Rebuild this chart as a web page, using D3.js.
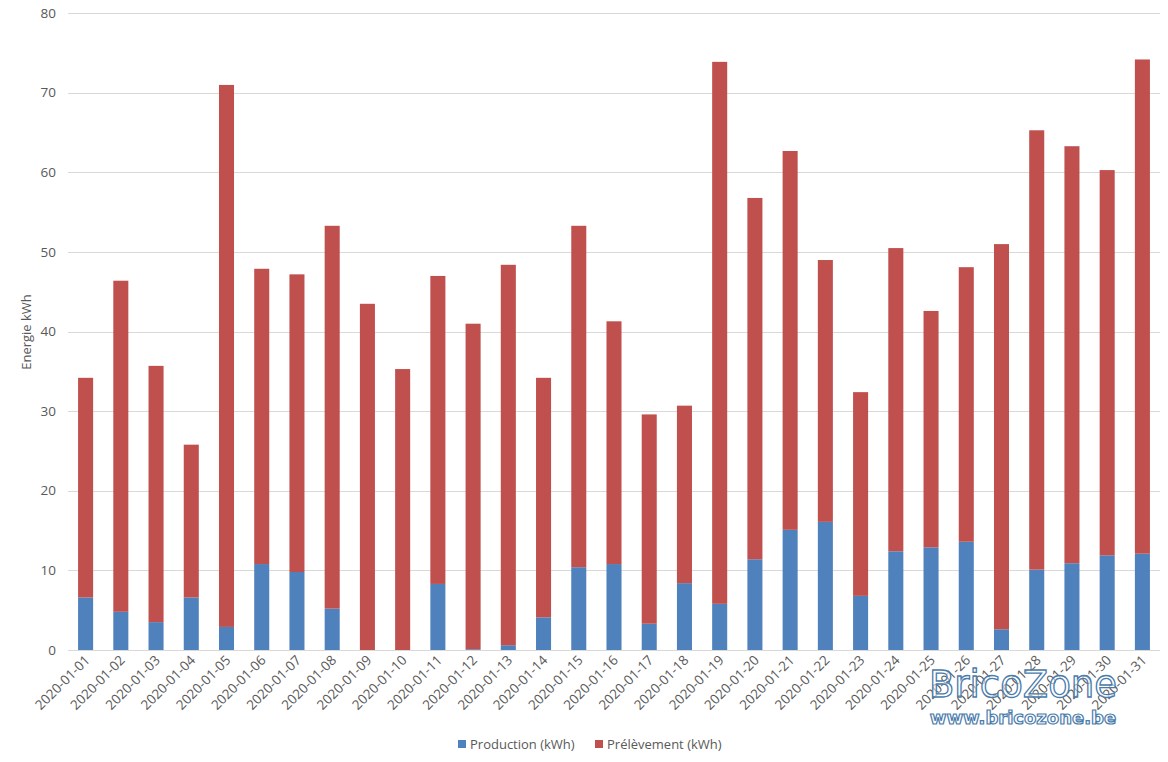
<!DOCTYPE html>
<html><head><meta charset="utf-8">
<script src="https://cdn.jsdelivr.net/npm/d3@7"></script>
<style>body{margin:0;background:#fff}svg{display:block}</style>
</head><body>
<svg id="c" width="1168" height="762"></svg>
<script>
const dates = ["2020-01-01","2020-01-02","2020-01-03","2020-01-04","2020-01-05","2020-01-06","2020-01-07","2020-01-08","2020-01-09","2020-01-10","2020-01-11","2020-01-12","2020-01-13","2020-01-14","2020-01-15","2020-01-16","2020-01-17","2020-01-18","2020-01-19","2020-01-20","2020-01-21","2020-01-22","2020-01-23","2020-01-24","2020-01-25","2020-01-26","2020-01-27","2020-01-28","2020-01-29","2020-01-30","2020-01-31"];
const production = [6.6,4.8,3.5,6.6,2.9,10.8,9.8,5.2,0,0,8.3,0.1,0.6,4.1,10.4,10.8,3.3,8.4,5.8,11.4,15.1,16.1,6.8,12.4,12.9,13.6,2.6,10.1,10.9,11.9,12.1];
const totals = [34.2,46.4,35.7,25.8,71.0,47.9,47.2,53.3,43.5,35.3,47.0,41.0,48.4,34.2,53.3,41.3,29.6,30.7,73.9,56.8,62.7,49.0,32.4,50.5,42.6,48.1,51.0,65.3,63.3,60.3,74.2];
const prelevement = totals.map((t,i)=>+(t-production[i]).toFixed(1));
const seriesNames = ["Production (kWh)","Prélèvement (kWh)"];
const yTicks = [0,10,20,30,40,50,60,70,80];

const colors = ["#4f81bd","#c0504d"];
const svg = d3.select("#c");
const font = "'Open Sans', 'Liberation Sans', sans-serif";
const m = {l:68, r:8, t:13.3, b:112};
const W = 1168, H = 762;
const x = d3.scaleBand().domain(dates).range([m.l, W-m.r]).paddingInner(0.573).paddingOuter(0.286);
const y = d3.scaleLinear().domain([0,80]).range([650, 13.3]);

// gridlines
svg.append("g").selectAll("line").data(yTicks).join("line")
  .attr("x1", m.l).attr("x2", W-m.r)
  .attr("y1", d=>Math.round(y(d))+0.5).attr("y2", d=>Math.round(y(d))+0.5)
  .attr("stroke","#d9d9d9").attr("stroke-width",1);

// y labels
svg.append("g").selectAll("text").data(yTicks).join("text")
  .attr("x", 56).attr("y", d=>y(d)+4.5).attr("text-anchor","end")
  .attr("font-family", font).attr("font-size", 13.5).attr("fill","#595959")
  .text(d=>d);

// y title
svg.append("text").attr("transform","translate(31,332) rotate(-90)")
  .attr("text-anchor","middle").attr("font-family",font).attr("font-size",13).attr("fill","#595959")
  .text("Energie kWh");

// stacked bars
const rows = dates.map((d,i)=>({date:d, p:production[i], q:prelevement[i]}));
const stack = d3.stack().keys(["p","q"])(rows);
svg.append("g").selectAll("g").data(stack).join("g")
  .attr("fill",(d,i)=>colors[i])
  .selectAll("rect").data(d=>d).join("rect")
  .attr("x", d=>x(d.data.date)).attr("width", x.bandwidth())
  .attr("y", d=>y(d[1])).attr("height", d=>Math.max(0, y(d[0])-y(d[1])));

// x labels
svg.append("g").selectAll("text").data(dates).join("text")
  .attr("transform", d=>`translate(${x(d)+x.bandwidth()/2+5},${661}) rotate(-45)`)
  .attr("text-anchor","end").attr("font-family",font).attr("font-size",13.5).attr("fill","#595959")
  .text(d=>d);

// legend
const leg = svg.append("g").attr("font-family",font).attr("font-size",13).attr("fill","#595959");
const legX = [458, 595];
seriesNames.forEach((n,i)=>{
  leg.append("rect").attr("x",legX[i]).attr("y",740).attr("width",8).attr("height",8).attr("fill",colors[i]);
  leg.append("text").attr("x",legX[i]+12).attr("y",749).text(n);
});

// watermark
const wm = svg.append("g").attr("fill","rgba(255,255,255,0.55)").attr("stroke","#4a7bab").attr("font-family","'DejaVu Sans', sans-serif");
wm.append("text").attr("x",1023).attr("y",697).attr("text-anchor","middle").attr("font-size",37).attr("stroke-width",1.3).text("BricoZone");
wm.append("text").attr("x",1023).attr("y",724).attr("text-anchor","middle").attr("font-size",18).attr("font-weight","bold").attr("stroke-width",1.2).text("www.bricozone.be");
</script>
</body></html>
